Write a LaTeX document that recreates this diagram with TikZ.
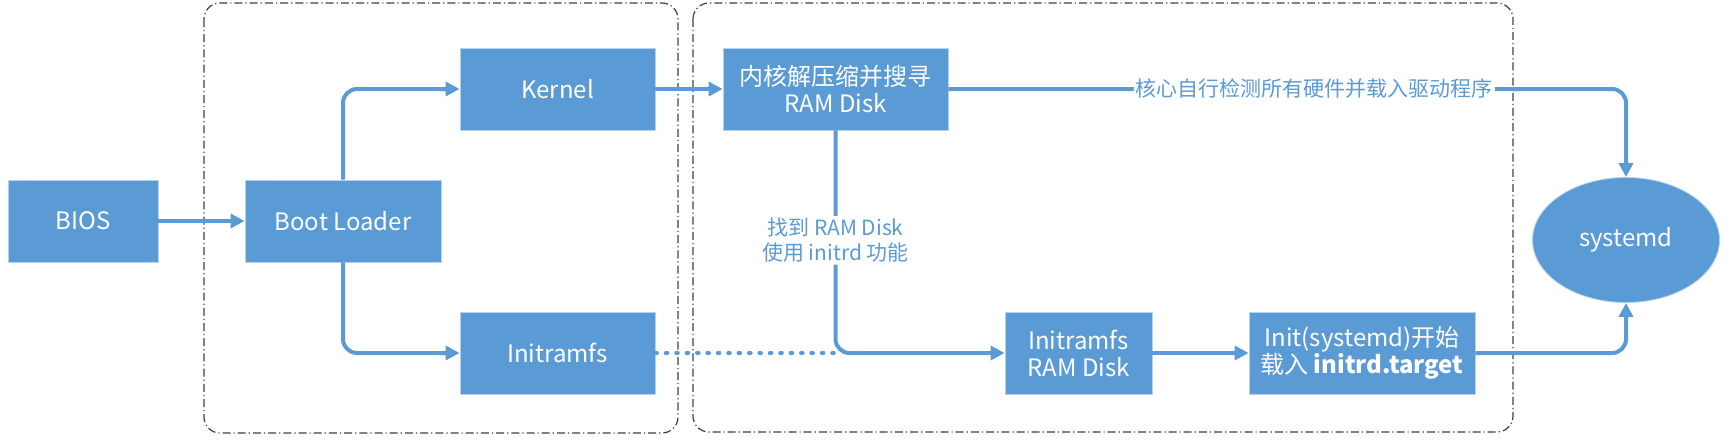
\documentclass[tikz,border=0pt]{standalone}
\usepackage{fontspec}
\setmainfont{Noto Sans CJK SC}
\usetikzlibrary{arrows.meta,shapes.geometric}
\definecolor{bootblue}{HTML}{5B9BD5}
\begin{document}
\begin{tikzpicture}[x=0.5pt,y=-0.5pt,>={Triangle[length=7pt,width=7pt]}]
	\tikzstyle{block} = [rectangle,fill=bootblue,draw=bootblue!45,line width=0.4pt,text=white,font=\fontsize{12}{13.5}\selectfont,align=center,minimum height=41pt,inner sep=0pt]
	\tikzstyle{link} = [->,draw=bootblue,line width=2pt,rounded corners=7pt]
	\tikzstyle{note} = [fill=white,text=bootblue,font=\fontsize{10.5}{12.5}\selectfont,inner sep=1pt,align=center]
	\tikzstyle{frame} = [draw=black!75,line width=0.6pt,dash pattern=on 4pt off 1.5pt on 0.6pt off 1.5pt,rounded corners=8pt]

	\useasboundingbox (0,0) rectangle (1729,440);

	% the two stages
	\draw[frame] (204,3) rectangle (678,433);
	\draw[frame] (693,3) rectangle (1513,432);

	\node[block,minimum width=75pt] (bios) at (83,221) {BIOS};
	\node[block,minimum width=98pt] (loader) at (343,221) {Boot Loader};
	\node[block,minimum width=97.5pt] (kernel) at (557.5,89) {Kernel};
	\node[block,minimum width=97.5pt] (initramfs) at (557.5,353) {Initramfs};
	\node[block,minimum width=112.5pt] (unpack) at (835.5,89) {内核解压缩并搜寻\\RAM Disk};
	\node[block,minimum width=73.5pt] (ramdisk) at (1078.5,353) {Initramfs\\RAM Disk};
	\node[block,minimum width=113pt] (initsys) at (1362,353) {Init(systemd)开始\\载入 \textbf{initrd.target}};
	\node[block,ellipse,minimum width=93.5pt,minimum height=62.5pt] (systemd) at (1626,240) {systemd};

	\coordinate (join) at (unpack.south |- initramfs.east);

	\path[link] (bios) -- (loader);
	\path[link] (loader.north) |- (kernel.west);
	\path[link] (loader.south) |- (initramfs.west);
	\path[link] (kernel) -- (unpack);
	\path[link] (unpack.east) -| node[note,pos=0.27]{核心自行检测所有硬件并载入驱动程序} (systemd.north);
	\path[link] (unpack.south) |- node[note,pos=0.247]{找到 RAM Disk\\使用 initrd 功能} (ramdisk.west);
	\draw[bootblue,line width=2pt,line cap=round,dash pattern=on 0.8pt off 4.4pt] (initramfs.east) -- (join);
	\path[link] (ramdisk) -- (initsys);
	\path[link] (initsys.east) -| (systemd.south);
\end{tikzpicture}
\end{document}
